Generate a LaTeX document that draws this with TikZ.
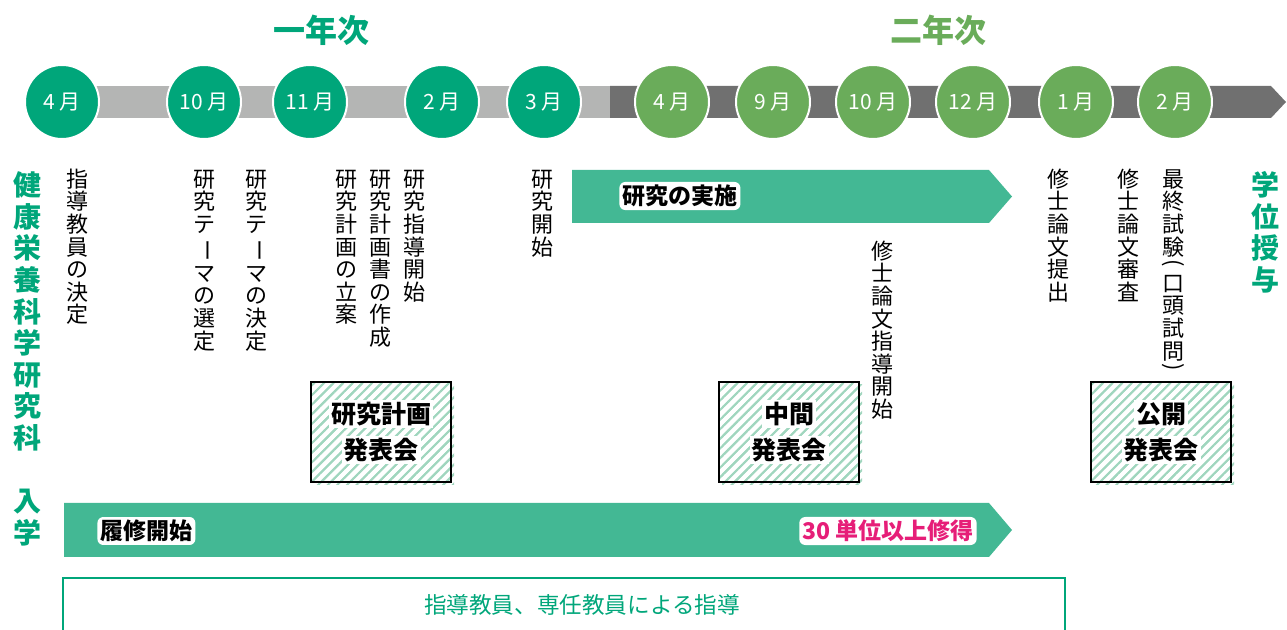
\documentclass[tikz,border=0pt]{standalone}
\usepackage{fontspec}
\setmainfont{Noto Sans CJK JP}
\usepackage{xcolor}
\usepackage{graphicx}
\usepackage{tikz}
\usetikzlibrary{patterns.meta}

\definecolor{teal1}{RGB}{0,166,122}
\definecolor{leaf}{RGB}{106,172,90}
\definecolor{barGreen}{RGB}{67,184,148}
\definecolor{hatchGreen}{RGB}{160,214,190}
\definecolor{pinkText}{RGB}{230,30,120}
\definecolor{lightGray}{RGB}{180,181,180}
\definecolor{darkGray}{RGB}{112,112,112}

% vertical text: one character per line, line step = \baselineskip
\ExplSyntaxOn
\dim_new:N \l_vt_step_dim
\NewDocumentCommand\vtext{m}{
  \dim_set:Nn \l_vt_step_dim {\baselineskip}
  \vbox{\offinterlineskip
    \tl_map_inline:nn{#1}{\hbox_to_wd:nn{1em}{\hss##1\hss\vtstrut}}}}
\newcommand\vtstrut{\vrule width 0pt height \dim_eval:n{\l_vt_step_dim-0.12em} depth 0.12em}
\ExplSyntaxOff
\newsavebox\vparbox
\newcommand\vbar{\rotatebox[origin=c]{-90}{ー}}
\newcommand\vparen[1]{\def\vtstrut{\vrule width 0pt height 0.5em depth 0.12em}%
    \sbox\vparbox{\rotatebox[origin=c]{-90}{#1}}%
    \raisebox{\dimexpr0.19em-(\ht\vparbox-\dp\vparbox)/2\relax}{\usebox\vparbox}}

\begin{document}
\begin{tikzpicture}[x=0.5pt, y=-0.5pt,
    month/.style={circle, draw=white, line width=1pt, minimum size=37pt, inner sep=0pt,
        text=white, font=\fontsize{10.5}{12}\selectfont},
    first/.style={month, fill=teal1},
    second/.style={month, fill=leaf},
    vlabel/.style={anchor=north, inner sep=0pt, font=\fontsize{11}{11.3}\selectfont},
    vtitle/.style={anchor=north, inner sep=0pt, text=teal1, font=\bfseries\fontsize{14}{15.8}\selectfont},
    hatchbox/.style={draw=black, line width=0.7pt, minimum width=70pt, minimum height=50pt,
        align=center, font=\bfseries\fontsize{12.5}{18}\selectfont,
        preaction={pattern={Lines[angle=45, distance=3.4pt, line width=1pt]}, pattern color=hatchGreen,
            transform canvas={shift={(1.5pt,-1.5pt)}}},
        pattern={Lines[angle=45, distance=3.4pt, line width=1pt]}, pattern color=hatchGreen},
    halo/.style={fill=white, rounded corners=3pt, inner sep=1.5pt, font=\bfseries\fontsize{11.5}{13}\selectfont}]
    \useasboundingbox (0,0) rectangle (1287,630);
    \setlength{\fboxsep}{1pt}

    % Years
    \node[text=teal1, font=\bfseries\fontsize{16}{18}\selectfont] (year1) at (321,30) {一年次};
    \node[text=leaf, font=\bfseries\fontsize{16}{18}\selectfont] (year2) at (938,30) {二年次};

    % Time line
    \fill[lightGray] (62,86) rectangle (610,118);
    \fill[darkGray] (610,86) -- (1271,86) -- (1286,102) -- (1271,118) -- (610,118) -- cycle;

    \node[first] (apr1) at (62,102) {4 月};
    \node[first] (oct1) at (204,102) {10 月};
    \node[first] (nov1) at (310,102) {11 月};
    \node[first] (feb1) at (442,102) {2 月};
    \node[first] (mar1) at (544,102) {3 月};
    \node[second] (apr2) at (672,102) {4 月};
    \node[second] (sep2) at (773,102) {9 月};
    \node[second] (oct2) at (873,102) {10 月};
    \node[second] (dec2) at (973,102) {12 月};
    \node[second] (jan2) at (1076,102) {1 月};
    \node[second] (feb2) at (1175,102) {2 月};

    % Side titles
    \node[vtitle] (school) at (27,167) {\vtext{健康栄養科学研究科　入学}};
    \node[vtitle] (degree) at (1265,167) {\vtext{学位授与}};

    % Events
    \node[vlabel] (advisor) at (78,167) {\vtext{指導教員の決定}};
    \node[vlabel] (themesel) at (204,167) {\vtext{研究テ{\vbar}マの選定}};
    \node[vlabel] (themefix) at (256,167) {\vtext{研究テ{\vbar}マの決定}};
    \node[vlabel] (planning) at (346,167) {\vtext{研究計画の立案}};
    \node[vlabel] (planbook) at (380,167) {\vtext{研究計画書の作成}};
    \node[vlabel] (guidance) at (414,167) {\vtext{研究指導開始}};
    \node[vlabel] (start) at (542,167) {\vtext{研究開始}};
    \node[vlabel] (thesisguide) at (882,239) {\vtext{修士論文指導開始}};
    \node[vlabel] (submit) at (1058,167) {\vtext{修士論文提出}};
    \node[vlabel] (review) at (1128,167) {\vtext{修士論文審査}};
    \node[vlabel] (exam) at (1173,167) {\vtext{最終試験{\vparen(}口頭試問{\vparen)}}};

    % Research bar
    \fill[barGreen] (572,170) -- (989,170) -- (1012,196.5) -- (989,223) -- (572,223) -- cycle;
    \node[halo, anchor=west] (research) at (619,196) {研究の実施};

    % Presentations
    \node[hatchbox] (planpres) at (381,432) {\colorbox{white}{研究計画}\\\colorbox{white}{発表会}};
    \node[hatchbox] (midpres) at (789,432) {\colorbox{white}{中間}\\\colorbox{white}{発表会}};
    \node[hatchbox] (openpres) at (1161,432) {\colorbox{white}{公開}\\\colorbox{white}{発表会}};

    % Course bar
    \fill[barGreen] (64,503) -- (989,503) -- (1012,530) -- (989,557) -- (64,557) -- cycle;
    \node[halo, anchor=west] (courses) at (97,531) {履修開始};
    \node[halo, anchor=east, text=pinkText] (credits) at (977,531) {30 単位以上修得};

    % Supervision
    \draw[teal1, line width=0.7pt] (63,631) -- (63,578) -- (1065,578) -- (1065,631);
    \node[text=teal1, font=\fontsize{11.3}{13}\selectfont] (supervision) at (582,605) {指導教員、専任教員による指導};
\end{tikzpicture}
\end{document}
